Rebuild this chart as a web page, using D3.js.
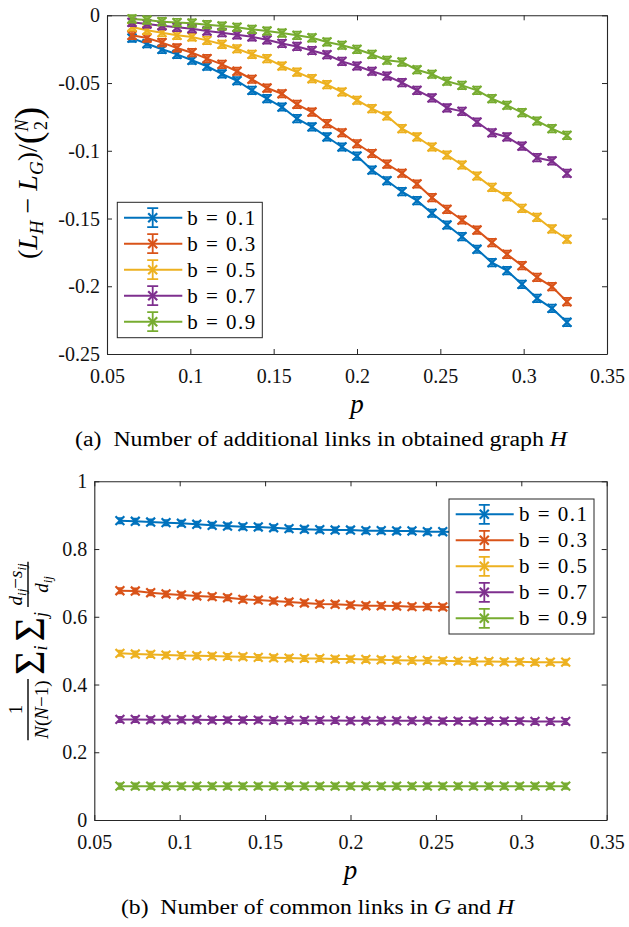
<!DOCTYPE html>
<html><head><meta charset="utf-8">
<script src="https://cdn.jsdelivr.net/npm/d3@7"></script>
<style>body{margin:0;background:#fff}svg{display:block}
svg text{font-family:"Liberation Serif","DejaVu Serif",serif;}</style>
</head><body><svg id="c" width="629" height="927"></svg>
<script>
// ---------------- DATA ----------------
const pValues = [0.065,0.074,0.083,0.092,0.101,0.110,0.119,0.128,0.137,0.146,0.155,0.164,0.173,0.182,0.191,0.200,0.209,0.218,0.227,0.236,0.245,0.254,0.263,0.272,0.281,0.290,0.299,0.308,0.317,0.326];
const seriesNames = ["b = 0.1","b = 0.3","b = 0.5","b = 0.7","b = 0.9"];

// (a) additional links
const addB01 = [-0.0168,-0.0210,-0.0251,-0.0288,-0.0332,-0.0376,-0.0433,-0.0483,-0.0554,-0.0615,-0.0677,-0.0763,-0.0824,-0.0898,-0.0972,-0.1039,-0.1142,-0.1221,-0.1302,-0.1368,-0.1461,-0.1548,-0.1634,-0.1727,-0.1826,-0.1885,-0.1986,-0.2089,-0.2163,-0.2266];
const addB03 = [-0.0148,-0.0168,-0.0202,-0.0241,-0.0276,-0.0320,-0.0362,-0.0413,-0.0472,-0.0537,-0.0579,-0.0657,-0.0714,-0.0800,-0.0867,-0.0948,-0.1020,-0.1098,-0.1166,-0.1245,-0.1346,-0.1432,-0.1511,-0.1585,-0.1678,-0.1764,-0.1848,-0.1934,-0.2003,-0.2114];
const addB05 = [-0.0086,-0.0111,-0.0128,-0.0148,-0.0160,-0.0185,-0.0214,-0.0247,-0.0288,-0.0320,-0.0374,-0.0419,-0.0468,-0.0512,-0.0566,-0.0627,-0.0689,-0.0743,-0.0837,-0.0898,-0.0972,-0.1031,-0.1105,-0.1186,-0.1270,-0.1339,-0.1425,-0.1491,-0.1577,-0.1653];
const addB07 = [-0.0052,-0.0064,-0.0077,-0.0089,-0.0099,-0.0116,-0.0128,-0.0144,-0.0159,-0.0181,-0.0208,-0.0230,-0.0260,-0.0291,-0.0340,-0.0374,-0.0413,-0.0448,-0.0497,-0.0554,-0.0610,-0.0684,-0.0709,-0.0788,-0.0867,-0.0898,-0.0965,-0.1051,-0.1075,-0.1166];
const addB09 = [-0.0027,-0.0035,-0.0047,-0.0054,-0.0058,-0.0069,-0.0079,-0.0088,-0.0104,-0.0116,-0.0131,-0.0148,-0.0166,-0.0197,-0.0221,-0.0251,-0.0288,-0.0332,-0.0345,-0.0402,-0.0435,-0.0487,-0.0517,-0.0554,-0.0615,-0.0664,-0.0719,-0.0780,-0.0837,-0.0886];

// (b) common links
const comB01 = [0.8837,0.8819,0.8798,0.8778,0.8760,0.8731,0.8701,0.8680,0.8660,0.8651,0.8630,0.8601,0.8583,0.8571,0.8562,0.8562,0.8542,0.8542,0.8533,0.8533,0.8512,0.8512,0.8500,0.8490,0.8480,0.8470,0.8460,0.8460,0.8450,0.8440];
const comB03 = [0.6770,0.6761,0.6711,0.6673,0.6643,0.6614,0.6593,0.6563,0.6516,0.6495,0.6466,0.6436,0.6407,0.6377,0.6369,0.6348,0.6327,0.6327,0.6318,0.6298,0.6298,0.6289,0.6280,0.6270,0.6260,0.6260,0.6250,0.6240,0.6240,0.6230];
const comB05 = [0.492,0.490,0.489,0.487,0.486,0.485,0.484,0.483,0.482,0.480,0.479,0.478,0.477,0.477,0.475,0.475,0.474,0.473,0.472,0.471,0.471,0.470,0.469,0.468,0.468,0.467,0.467,0.466,0.466,0.466];
const comB07 = [0.297,0.297,0.296,0.296,0.296,0.296,0.295,0.295,0.295,0.295,0.294,0.294,0.294,0.294,0.294,0.293,0.293,0.293,0.293,0.293,0.293,0.292,0.292,0.292,0.292,0.292,0.292,0.291,0.291,0.291];
const comB09 = [0.100,0.100,0.100,0.100,0.100,0.100,0.100,0.100,0.100,0.100,0.100,0.100,0.100,0.100,0.100,0.100,0.100,0.100,0.100,0.100,0.100,0.100,0.100,0.100,0.100,0.100,0.100,0.100,0.100,0.100];

const xTickValues = [0.05,0.1,0.15,0.2,0.25,0.3,0.35];
const xTickLabels = ["0.05","0.1","0.15","0.2","0.25","0.3","0.35"];
const addYTickValues = [0,-0.05,-0.1,-0.15,-0.2,-0.25];
const addYTickLabels = ["0","-0.05","-0.1","-0.15","-0.2","-0.25"];
const comYTickValues = [0,0.2,0.4,0.6,0.8,1];
const comYTickLabels = ["0","0.2","0.4","0.6","0.8","1"];
const addErr = 0.0028;
const comErr = 0.008;

// ---------------- STYLE ----------------
const colors = ["#0072BD","#D95319","#EDB120","#7E2F8E","#77AC30"];
const AX = "#262626";
const svg = d3.select("#c");

function drawChart(cfg){
  const x = d3.scaleLinear().domain([0.05,0.35]).range([cfg.left,cfg.right]);
  const y = d3.scaleLinear().domain(cfg.yDomain).range([cfg.bottom,cfg.top]);
  const g = svg.append("g");
  const tl = 5;
  const fmtX = (d,i)=>xTickLabels[i];
  const fmtY = (d)=>cfg.yLabels[cfg.yTicks.indexOf(d)];
  const axB = g.append("g").attr("transform",`translate(0,${cfg.bottom})`)
    .call(d3.axisBottom(x).tickValues(xTickValues).tickFormat(fmtX).tickSizeInner(-tl).tickSizeOuter(0).tickPadding(0));
  const axT = g.append("g").attr("transform",`translate(0,${cfg.top})`)
    .call(d3.axisTop(x).tickValues(xTickValues).tickFormat("").tickSizeInner(-tl).tickSizeOuter(0));
  const axL = g.append("g").attr("transform",`translate(${cfg.left},0)`)
    .call(d3.axisLeft(y).tickValues(cfg.yTicks).tickFormat(fmtY).tickSizeInner(-tl).tickSizeOuter(0).tickPadding(0));
  const axR = g.append("g").attr("transform",`translate(${cfg.right},0)`)
    .call(d3.axisRight(y).tickValues(cfg.yTicks).tickFormat("").tickSizeInner(-tl).tickSizeOuter(0));
  [axB,axT,axL,axR].forEach(a=>{
    a.selectAll("path.domain").attr("stroke",AX).attr("stroke-width",1.1);
    a.selectAll(".tick line").attr("stroke",AX).attr("stroke-width",1);
  });
  axB.selectAll(".tick text").attr("font-size",20).attr("fill","#111").attr("y",29).attr("dy",0);
  axL.selectAll(".tick text").attr("font-size",20).attr("fill","#111").attr("x",-7).attr("dy","0.33em");
  const line = d3.line().x((d,i)=>x(pValues[i])).y(d=>y(d));
  const plot = g.append("g");
  cfg.series.forEach((s,k)=>{
    const c = colors[k];
    const sg = plot.append("g").attr("stroke",c).attr("fill","none").attr("stroke-width",2);
    sg.append("path").attr("d",line(s)).attr("stroke-linejoin","round");
    s.forEach((v,i)=>{
      const px = x(pValues[i]), py = y(v);
      const y1 = y(v-cfg.err), y2 = y(v+cfg.err);
      const cw = cfg.cap, r = 4.4;
      sg.append("path").attr("stroke-width",1.6)
        .attr("d",`M${px},${y1}V${y2}M${px-cw},${y1}H${px+cw}M${px-cw},${y2}H${px+cw}`);
      sg.append("path").attr("stroke-width",2.2)
        .attr("d",`M${px-r},${py-r}L${px+r},${py+r}M${px-r},${py+r}L${px+r},${py-r}`);
    });
  });
  const L = cfg.legend;
  const lg = g.append("g");
  lg.append("rect").attr("x",L.x0).attr("y",L.y0).attr("width",L.x1-L.x0).attr("height",L.y1-L.y0)
    .attr("fill","#fff").attr("stroke",AX).attr("stroke-width",1);
  seriesNames.forEach((nm,k)=>{
    const cy = L.row0 + k*26, c = colors[k];
    const eg = lg.append("g").attr("stroke",c).attr("fill","none");
    eg.append("path").attr("stroke-width",2).attr("d",`M${L.lx0},${cy}H${L.lx1}`);
    const mx = L.mx, e = 9.5, cw = 5.5, r = 4.5;
    eg.append("path").attr("stroke-width",1.8)
      .attr("d",`M${mx},${cy-e}V${cy+e}M${mx-cw},${cy-e}H${mx+cw}M${mx-cw},${cy+e}H${mx+cw}`);
    eg.append("path").attr("stroke-width",2.2)
      .attr("d",`M${mx-r},${cy-r}L${mx+r},${cy+r}M${mx-r},${cy+r}L${mx+r},${cy-r}`);
    lg.append("text").attr("x",L.tx).attr("y",cy+7).attr("font-size",21)
      .attr("textLength",68).attr("lengthAdjust","spacing").attr("fill","#000").text(nm);
  });
  g.append("text").attr("x",(cfg.left+cfg.right)/2).attr("y",cfg.bottom+59).attr("text-anchor","middle")
    .attr("font-style","italic").attr("font-size",27).text("p");
  return g;
}

drawChart({left:107,right:607,top:15.3,bottom:354,yDomain:[-0.25,0],yTicks:addYTickValues,yLabels:addYTickLabels,
  series:[addB01,addB03,addB05,addB07,addB09],err:addErr,cap:4.5,
  legend:{x0:117.3,x1:262.3,y0:202.3,y1:337.7,row0:217.7,lx0:124,lx1:182.3,mx:152.7,tx:187.3}});
drawChart({left:94.3,right:606.7,top:481.3,bottom:820,yDomain:[0,1],yTicks:comYTickValues,yLabels:comYTickLabels,
  series:[comB01,comB03,comB05,comB07,comB09],err:comErr,cap:2.5,
  legend:{x0:449,x1:594,y0:499,y1:634,row0:514.3,lx0:455.7,lx1:513.7,mx:484.3,tx:519}});

// ---------------- math y labels ----------------
function run(g, xpos, txt, size, italic, dy){
  const t = g.append("text").attr("x",xpos).attr("y",dy||0)
    .attr("font-size",size).attr("font-style",italic?"italic":"normal").attr("fill","#000").text(txt);
  return t.node().getComputedTextLength();
}
function layout(g, items){
  let xp = 0;
  items.forEach(it=>{
    if(it.gapOnly){ xp += it.gapOnly; return; }
    if(it.frac){
      const ng = g.append("g"), dg = g.append("g");
      let nw=0, dw=0;
      it.num.forEach(r=>{ nw += run(ng, nw, r[0], r[1], r[2], r[3]); });
      it.den.forEach(r=>{ dw += run(dg, dw, r[0], r[1], r[2], r[3]); });
      const w = Math.max(nw,dw) + 3;
      ng.attr("transform",`translate(${xp+1.5+(w-3-nw)/2},${it.nShift})`);
      dg.attr("transform",`translate(${xp+1.5+(w-3-dw)/2},${it.dShift})`);
      g.append("line").attr("x1",xp).attr("x2",xp+w).attr("y1",it.bar).attr("y2",it.bar)
        .attr("stroke","#000").attr("stroke-width",1.4);
      xp += w;
    } else if(it.stack){
      const a = g.append("g"), b = g.append("g");
      const wa = run(a,0,it.top[0],it.top[1],it.top[2],0);
      const wb = run(b,0,it.bot[0],it.bot[1],it.bot[2],0);
      const w = Math.max(wa,wb);
      a.attr("transform",`translate(${xp+(w-wa)/2},${it.topShift})`);
      b.attr("transform",`translate(${xp+(w-wb)/2},${it.botShift})`);
      xp += w;
    } else {
      xp += run(g, xp, it[0], it[1], it[2], it[3]);
    }
  });
  return xp;
}
function yLabel(cx, cy, items){
  const g = svg.append("g");
  const inner = g.append("g");
  const w = layout(inner, items);
  inner.attr("transform",`translate(${-w/2},0)`);
  g.attr("transform",`translate(${cx},${cy}) rotate(-90)`);
}
// (L_H - L_G)/binom(N,2)
yLabel(37, 183, [
  ["(",28,false],["L",28,true],["H",19,true,6],{gapOnly:7},["\u2212",28,false],{gapOnly:7},["L",28,true],["G",19,true,6],[")/",28,false],
  ["(",38,false,4],{stack:true,top:["N",18,true],bot:["2",18,false],topShift:-9,botShift:10},[")",38,false,4]
]);
// 1/(N(N-1)) sum_i sum_j (d_ij - s_ij)/d_ij
yLabel(34, 651, [
  {frac:true,num:[["1",19,false]],den:[["N",19,true],["(",19,false],["N",19,true],["\u22121)",19,false]],nShift:-12,dShift:14,bar:-6},
  {gapOnly:4},
  ["\u03A3",42,false,10],["i",18,true,13],{gapOnly:4},["\u03A3",42,false,10],["j",18,true,13],{gapOnly:5},
  {frac:true,num:[["d",19,true],["ij",13,true,4],["\u2212",19,false],["s",19,true],["ij",13,true,4]],den:[["d",19,true],["ij",13,true,4]],nShift:-12,dShift:14,bar:-6}
]);

// ---------------- captions ----------------
function caption(xc, yb, parts, len){
  const t = svg.append("text").attr("x",xc).attr("y",yb).attr("text-anchor","middle")
    .attr("font-size",20).attr("fill","#000").attr("textLength",len).attr("lengthAdjust","spacingAndGlyphs");
  parts.forEach(p=>t.append("tspan").attr("font-style",p[1]?"italic":"normal").text(p[0]));
}
caption(321, 446, [["(a)\u2002Number of additional links in obtained graph ",false],["H",true]], 492);
caption(317.5, 914, [["(b)\u2002Number of common links in ",false],["G",true],[" and ",false],["H",true]], 393);
</script></body></html>
